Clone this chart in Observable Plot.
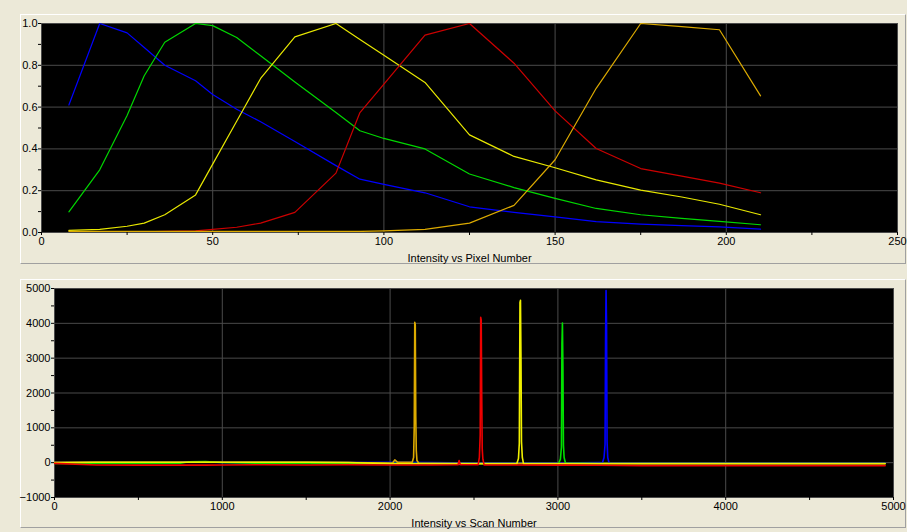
<!DOCTYPE html>
<html><head><meta charset="utf-8">
<script src="https://cdn.jsdelivr.net/npm/d3@7"></script>
<script src="https://cdn.jsdelivr.net/npm/@observablehq/plot@0.6"></script>
<style>
html,body{margin:0;padding:0;background:#ece9d8;width:907px;height:532px;overflow:hidden;font-family:"Liberation Sans",Arial,sans-serif}
.panel{position:absolute;left:20px;width:886px;border-top:1px solid #fff;border-left:1px solid #fff;border-bottom:1px solid #a0a0a0;border-right:1px solid #a0a0a0;box-sizing:border-box}
#top{position:absolute;left:0;top:0}
#bot{position:absolute;left:0;top:270px}
</style></head><body>
<div class="panel" style="top:14px;height:250px"></div>
<div class="panel" style="top:279px;height:249px"></div>
<div id="top"></div><div id="bot"></div>
<script>
// ---- Top panel: Intensity vs Pixel Number ----
const pixelX = [8, 17, 25, 30, 36, 45, 50, 57, 64, 74, 86, 93, 100, 112, 125, 138, 150, 162, 175, 187, 198, 210];
const bluePix   = [0.61,1.0,0.955,0.885,0.80,0.726,0.66,0.59,0.53,0.435,0.32,0.255,0.23,0.19,0.123,0.096,0.075,0.052,0.04,0.033,0.027,0.016];
const greenPix  = [0.099,0.30,0.56,0.75,0.91,1.0,0.99,0.933,0.846,0.72,0.574,0.487,0.45,0.40,0.28,0.215,0.163,0.115,0.085,0.068,0.053,0.037];
const yellowPix = [0.01,0.015,0.03,0.045,0.085,0.18,0.327,0.532,0.737,0.936,1.0,0.924,0.848,0.718,0.467,0.364,0.31,0.252,0.203,0.17,0.135,0.085];
const redPix    = [0,0,0.002,0.003,0.005,0.008,0.015,0.025,0.045,0.096,0.284,0.574,0.71,0.944,1.0,0.81,0.582,0.402,0.306,0.27,0.236,0.19];
const orangePix = [0.005,0.005,0.005,0.005,0.005,0.005,0.005,0.005,0.005,0.005,0.005,0.005,0.008,0.015,0.045,0.13,0.348,0.69,1.0,0.985,0.97,0.654];

const seriesNames = ["Dye B","Dye G","Dye Y","Dye R","Dye O"];
const seriesColors = ["#0000ff","#00d800","#e8e800","#cc0000","#dcaa00"];
const scanColors = ["#0000ff","#00e000","#f0f000","#ee0000","#dcaa00"];

const topXTicks = [0,50,100,150,200,250];
const topXMinor = [25,75,125,175,225];
const topYTicks = [0,0.2,0.4,0.6,0.8,1.0];
const topYMinor = [0.1,0.3,0.5,0.7,0.9];

// ---- Bottom panel: Intensity vs Scan Number ----
const scanBase   = [0,250,500,750,800,900,1000,1250,1500,1750,2000,2250,2500,2750,3000,3250,3500,3750,4000,4250,4500,4750,4950];
const blueBase   = [0,0,0,10,25,20,5,0,0,0,10,0,-10,-10,-10,0,-20,-20,-20,-20,-20,-20,-20];
const greenBase  = [-20,-20,-20,-15,25,30,5,-20,-20,-20,-20,-25,-25,-25,-25,-25,-25,-25,-25,-25,-25,-25,-25];
const redBase    = [-20,-65,-70,-70,-70,-70,-65,-60,-65,-60,-65,-65,-65,-65,-70,-75,-85,-85,-85,-85,-85,-85,-85];
const orangeBase = [5,10,10,10,10,10,10,10,10,5,-10,-20,-25,-25,-25,-25,-25,-25,-25,-25,-25,-25,-25];
const yellowBase = [5,10,10,10,10,10,10,10,10,5,-30,-30,-30,-30,-30,-30,-30,-30,-30,-30,-30,-30,-30];

const orangePeakX = [2015,2028,2045,2132,2140,2144,2147,2150,2153,2156,2160,2170];
const orangePeakY = [-10,80,10,10,150,1050,4030,3960,1330,350,60,-10];
const redPeakX    = [2405,2411,2418,2525,2532,2537,2540,2543,2546,2549,2553,2560];
const redPeakY    = [-60,60,-60,-55,150,800,4170,4100,1950,400,100,-65];
const yellowPeakX = [2755,2765,2770,2774,2777,2780,2783,2788,2795];
const yellowPeakY = [-30,120,550,4600,4660,3000,600,150,-30];
const greenPeakX  = [3005,3015,3021,3024,3027,3030,3033,3037,3045];
const greenPeakY  = [-10,100,450,3410,4010,2720,500,150,-10];
const bluePeakX   = [3265,3275,3281,3284,3287,3290,3293,3297,3305];
const bluePeakY   = [-10,150,520,3530,4940,3915,600,150,-10];

const botXTicks = [0,1000,2000,3000,4000,5000];
const botXMinor = [500,1500,2500,3500,4500];
const botYTicks = [-1000,0,1000,2000,3000,4000,5000];
const botYMinor = [-500,500,1500,2500,3500,4500];

// build tables
const topData = [];
[bluePix, greenPix, yellowPix, redPix, orangePix].forEach((arr, i) => {
  arr.forEach((v, j) => topData.push({series: seriesNames[i], x: pixelX[j], y: v}));
});

function combine(name, base, px, py) {
  const lo = d3.min(px), hi = d3.max(px);
  const pts = [];
  scanBase.forEach((s, j) => { if (s < lo || s > hi) pts.push({series: name, x: s, y: base[j]}); });
  px.forEach((s, j) => pts.push({series: name, x: s, y: py[j]}));
  return pts.sort((a, b) => a.x - b.x);
}
// drawing order
const botSeries = [
  combine("Dye B", blueBase, bluePeakX, bluePeakY),
  combine("Dye G", greenBase, greenPeakX, greenPeakY),
  combine("Dye O", orangeBase, orangePeakX, orangePeakY),
  combine("Dye Y", yellowBase, yellowPeakX, yellowPeakY),
  combine("Dye R", redBase, redPeakX, redPeakY)
];

const gridColor = "#4a4a4a";
const style = {fontFamily: "'Liberation Sans', Arial, sans-serif", fontSize: "11px", background: "transparent", color: "black", overflow: "visible"};

const topPlot = Plot.plot({
  width: 907, height: 270,
  marginLeft: 41, marginRight: 10, marginTop: 23, marginBottom: 38,
  style,
  x: {domain: [0, 250]},
  y: {domain: [0, 1]},
  color: {type: "ordinal", domain: seriesNames, range: seriesColors},
  marks: [
    Plot.frame({fill: "black", stroke: null}),
    Plot.gridX(topXTicks, {stroke: gridColor, strokeOpacity: 1}),
    Plot.gridY(topYTicks, {stroke: gridColor, strokeOpacity: 1}),
    Plot.axisX({ticks: topXMinor, tickSize: 3, tickFormat: () => "", label: null}),
    Plot.axisX({ticks: topXTicks, tickSize: 3, tickPadding: 2, tickFormat: d3.format("d"),
      label: "Intensity vs Pixel Number", labelAnchor: "center", labelArrow: "none", labelOffset: 29}),
    Plot.axisY({ticks: topYMinor, tickSize: 3, tickFormat: () => "", label: null}),
    Plot.axisY({ticks: topYTicks, tickSize: 3, tickPadding: 1, tickFormat: d3.format(".1f"), label: null}),
    Plot.line(topData, {x: "x", y: "y", z: "series", stroke: "series", strokeWidth: 1.2, clip: true})
  ]
});
document.getElementById("top").appendChild(topPlot);

const botPlot = Plot.plot({
  width: 907, height: 262,
  marginLeft: 54, marginRight: 14, marginTop: 18, marginBottom: 35,
  style,
  x: {domain: [0, 5000]},
  y: {domain: [-1000, 5000]},
  color: {type: "ordinal", domain: seriesNames, range: scanColors},
  marks: [
    Plot.frame({fill: "black", stroke: null}),
    Plot.gridX(botXTicks, {stroke: gridColor, strokeOpacity: 1}),
    Plot.gridY(botYTicks, {stroke: gridColor, strokeOpacity: 1}),
    Plot.axisX({ticks: botXMinor, tickSize: 3, tickFormat: () => "", label: null}),
    Plot.axisX({ticks: botXTicks, tickSize: 3, tickPadding: 2, tickFormat: d3.format("d"),
      label: "Intensity vs Scan Number", labelAnchor: "center", labelArrow: "none", labelOffset: 29}),
    Plot.axisY({ticks: botYMinor, tickSize: 3, tickFormat: () => "", label: null}),
    Plot.axisY({ticks: botYTicks, tickSize: 3, tickPadding: 1, tickFormat: d3.format("d"), label: null}),
    ...botSeries.map(s => Plot.line(s, {x: "x", y: "y", stroke: "series", strokeWidth: 1.6, clip: true}))
  ]
});
document.getElementById("bot").appendChild(botPlot);
</script></body></html>
